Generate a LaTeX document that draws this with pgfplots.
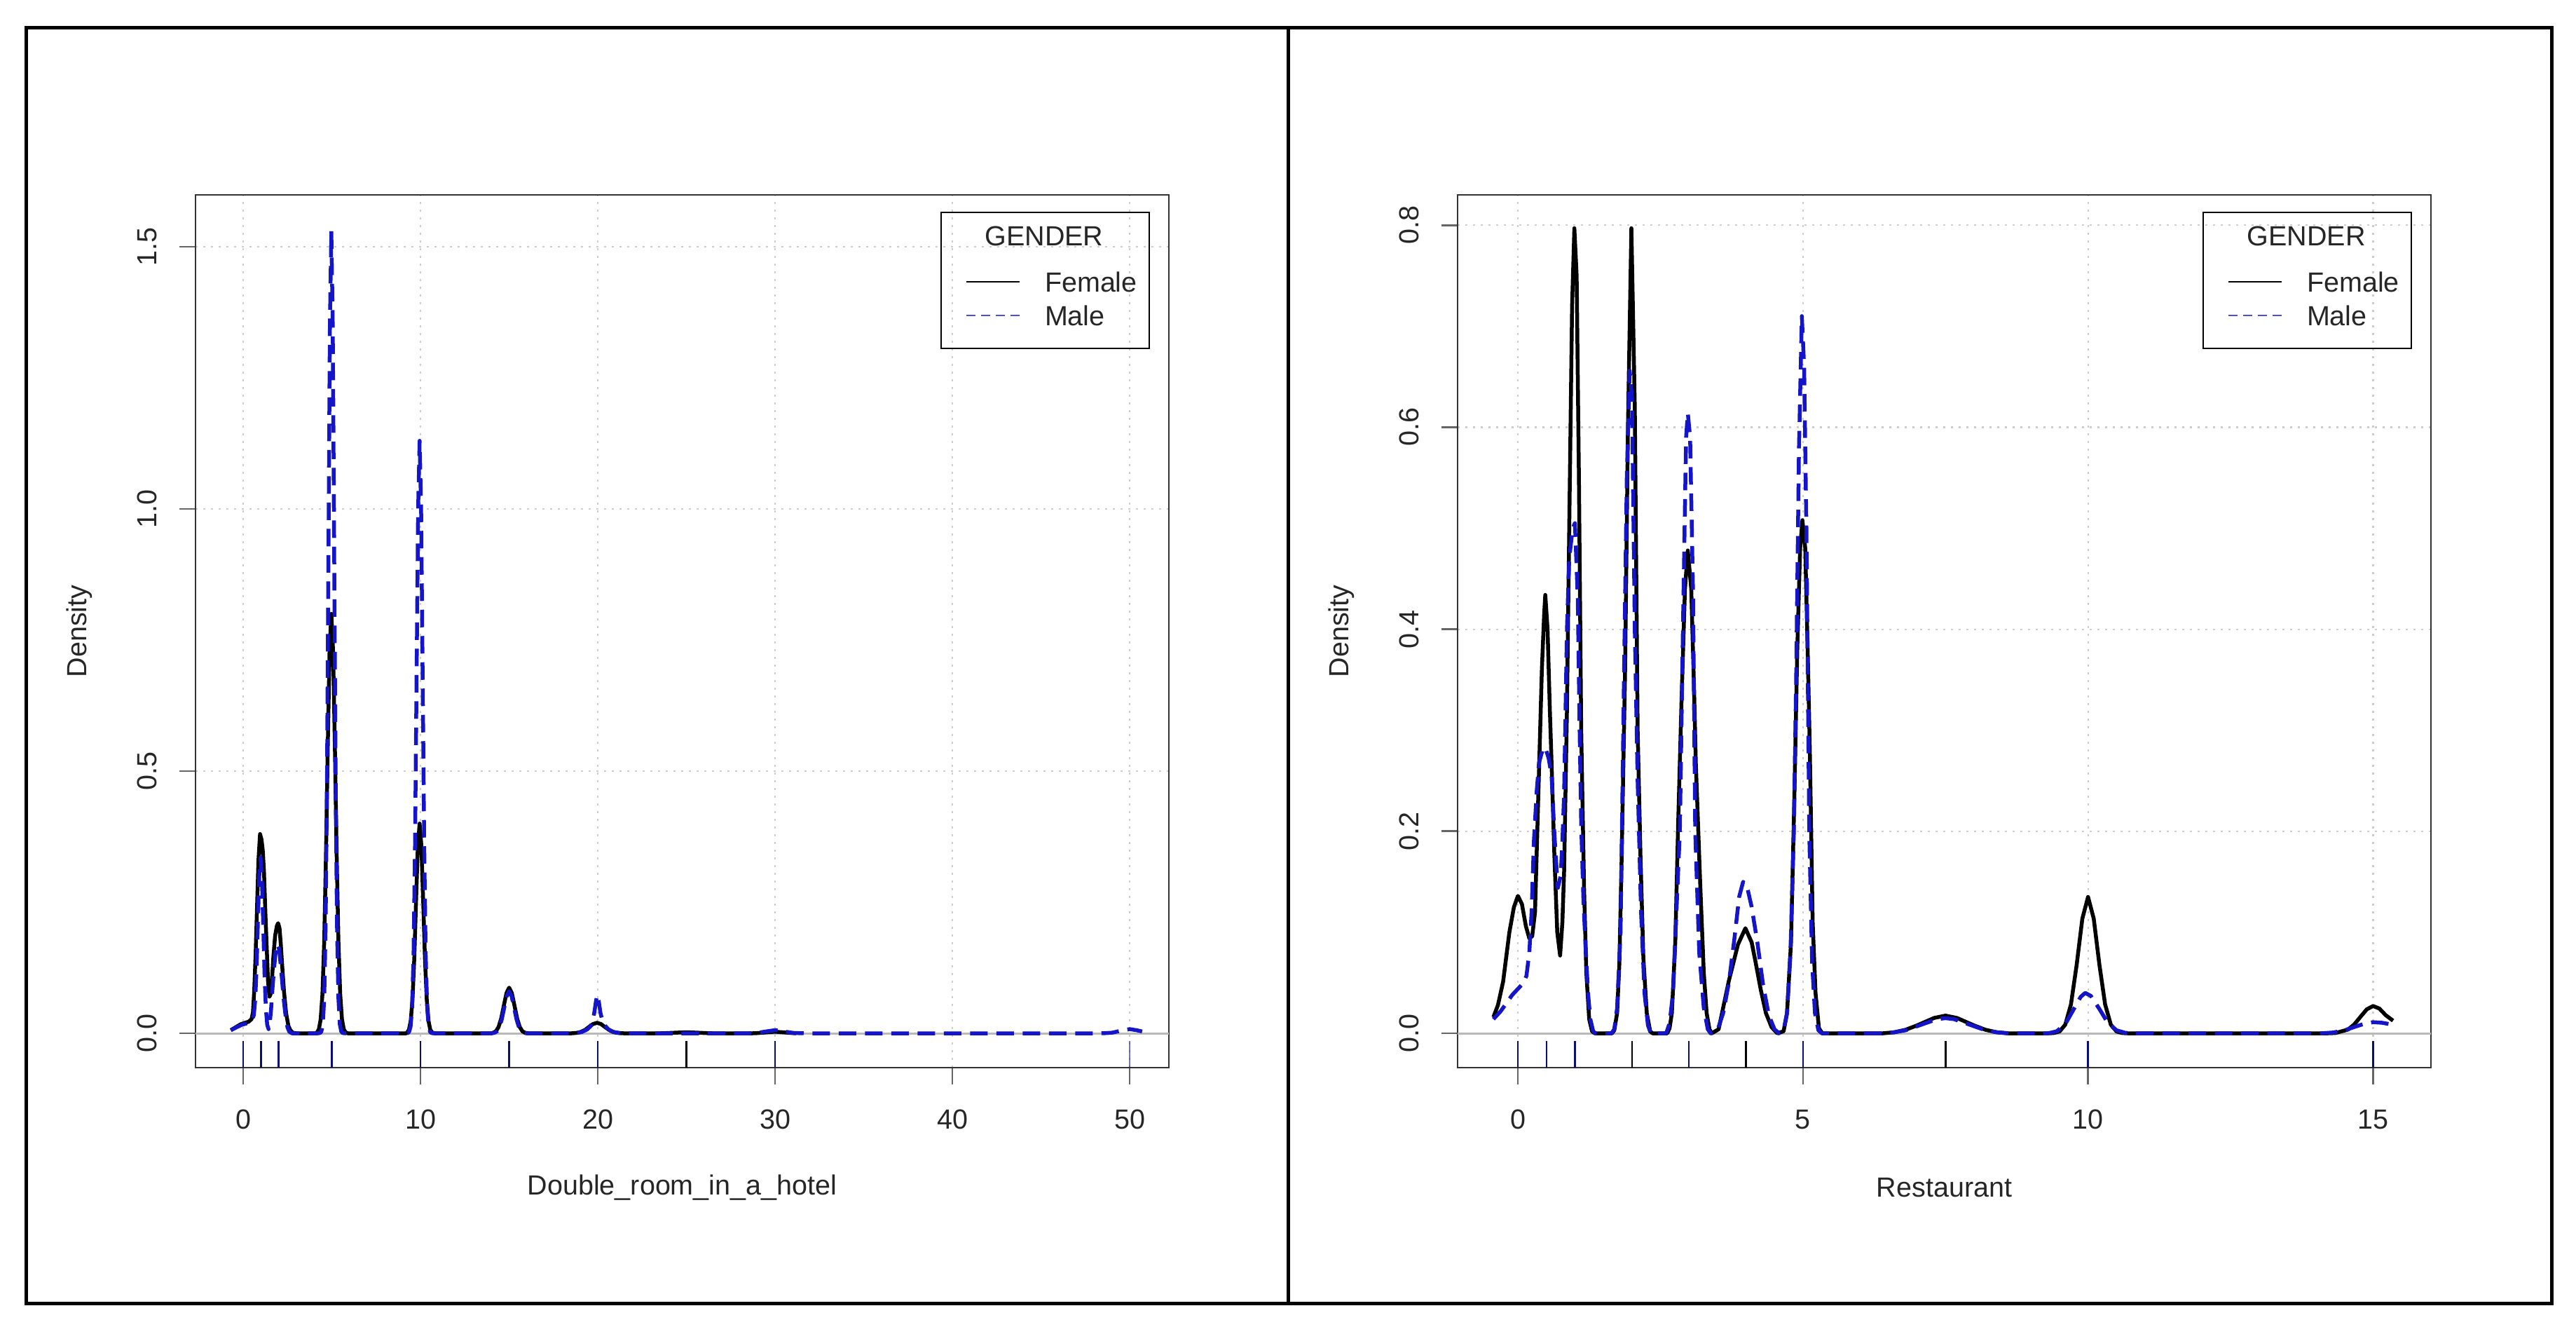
\documentclass[border=0pt]{standalone}
\usepackage{fontspec}
\setmainfont{Liberation Sans}
\usepackage{pgfplots}
\pgfplotsset{compat=1.18}
\definecolor{rblue}{RGB}{20,20,200}
\definecolor{gridgray}{RGB}{205,205,205}
\definecolor{zerogray}{RGB}{185,185,185}
\newcommand{\rfont}{\fontsize{7.9}{9}\selectfont}
\pgfplotsset{
  rstyle/.style={
    scale only axis, width=277.8pt, height=249pt, anchor=south west,
    axis line style={line width=0.55pt, black!80},
    tick pos=left, tick align=outside, major tick length=4.7pt,
    tick style={line width=0.55pt, black!60},
    grid=major,
    major grid style={line width=0.45pt, gridgray, dash pattern=on 0.6pt off 1.6pt},
    tick label style={font=\rfont, text=black!85},
    /pgf/number format/assume math mode=true,
    label style={font=\rfont, text=black!85},
    xticklabel style={anchor=center, yshift=-10.1pt},
    yticklabel style={xshift=-9.1pt, rotate=90, anchor=center},
    xlabel style={at={(axis description cs:0.5,-0.1373)}, anchor=center},
    ylabel style={at={(axis description cs:-0.1195,0.5)}, anchor=center},
  },
  fem/.style={black, line width=1.1pt, line join=round},
  mal/.style={rblue, line width=1.1pt, line join=round, dash pattern=on 5pt off 2.5pt},
}
\begin{document}
\begin{tikzpicture}
\path[use as bounding box] (0,0) rectangle (735.2pt,378.4pt);
\draw[line width=1pt] (7.4pt,6.6pt) rectangle (728.2pt,370.4pt);
\draw[line width=1pt] (367.6pt,6.6pt) -- (367.6pt,370.4pt);

% ---------------- left panel ----------------
\begin{axis}[rstyle, at={(55.8pt,73.8pt)},
  xmin=-2.69, xmax=52.21, ymin=-0.0655, ymax=1.599,
  xtick={0,10,20,30,40,50}, ytick={0,0.5,1,1.5},
  yticklabels={0.0,0.5,1.0,1.5},
  xlabel={Double\_room\_in\_a\_hotel}, ylabel={Density}]
\addplot[zerogray, line width=0.6pt, forget plot] coordinates {(-2.69,0) (52.21,0)};
% rug
\addplot[black, line width=0.5pt, unbounded coords=jump, forget plot] coordinates {
(0,-0.0147) (0,-0.0655) (0.5,nan) (1,-0.0147) (1,-0.0655) (1.5,nan) (2,-0.0147) (2,-0.0655) (3,nan)
(5,-0.0147) (5,-0.0655) (6,nan) (10,-0.0147) (10,-0.0655) (11,nan) (15,-0.0147) (15,-0.0655) (16,nan)
(20,-0.0147) (20,-0.0655) (21,nan) (25,-0.0147) (25,-0.0655) (26,nan) (30,-0.0147) (30,-0.0655)};
\addplot[rblue, opacity=0.6, line width=0.5pt, unbounded coords=jump, forget plot] coordinates {
(0,-0.0147) (0,-0.0655) (0.5,nan) (1,-0.0147) (1,-0.0655) (1.5,nan) (2,-0.0147) (2,-0.0655) (3,nan)
(5,-0.0147) (5,-0.0655) (6,nan) (10,-0.0147) (10,-0.0655) (11,nan) (15,-0.0147) (15,-0.0655) (16,nan)
(20,-0.0147) (20,-0.0655) (21,nan) (30,-0.0147) (30,-0.0655) (31,nan) (50,-0.0147) (50,-0.0655)};
% Female
\addplot[fem] coordinates {
(-0.7,0.006) (-0.4,0.012) (-0.16,0.017) (0.1,0.020) (0.3,0.022) (0.47,0.027) (0.55,0.04) (0.62,0.08)
(0.7,0.15) (0.78,0.24) (0.86,0.33) (0.95,0.38) (1.03,0.37) (1.1,0.35) (1.17,0.31) (1.25,0.23) (1.33,0.16)
(1.4,0.10) (1.48,0.07) (1.55,0.075) (1.62,0.10) (1.7,0.145) (1.8,0.186) (1.9,0.205) (1.97,0.21) (2.05,0.20)
(2.12,0.17) (2.19,0.133) (2.3,0.08) (2.42,0.038) (2.55,0.014) (2.66,0.006) (2.8,0.001) (3.0,0) (4.1,0)
(4.17,0.002) (4.27,0.008) (4.37,0.027) (4.47,0.075) (4.57,0.176) (4.67,0.343) (4.77,0.548) (4.87,0.728)
(4.97,0.80) (5.07,0.728) (5.17,0.548) (5.27,0.343) (5.37,0.176) (5.47,0.075) (5.57,0.027) (5.67,0.008)
(5.77,0.002) (5.9,0) (9.2,0) (9.25,0.0016) (9.35,0.007) (9.45,0.024) (9.55,0.066) (9.65,0.144) (9.75,0.254)
(9.85,0.357) (9.95,0.40) (10.05,0.357) (10.15,0.254) (10.25,0.144) (10.35,0.066) (10.45,0.024) (10.55,0.007)
(10.65,0.0016) (10.8,0) (14.0,0) (14.1,0.001) (14.25,0.0038) (14.4,0.0118) (14.55,0.0282) (14.7,0.0528)
(14.85,0.0768) (15.0,0.087) (15.15,0.0768) (15.3,0.0528) (15.45,0.0282) (15.6,0.0118) (15.75,0.0038)
(15.9,0.001) (16.1,0) (18.5,0) (18.6,0.0002) (18.83,0.0009) (19.05,0.0027) (19.28,0.0065) (19.5,0.0121)
(19.73,0.0177) (19.95,0.020) (20.18,0.0177) (20.4,0.0121) (20.63,0.0065) (20.85,0.0027) (21.08,0.0009)
(21.3,0.0002) (21.5,0) (23.5,0) (23.8,0.0003) (24.4,0.0012) (25,0.002) (25.6,0.0012) (26.2,0.0003) (26.5,0)
(28.7,0) (29,0.0004) (29.5,0.0018) (30,0.003) (30.5,0.0018) (31,0.0004) (31.2,0.0002)};
% Male
\addplot[mal] coordinates {
(-0.7,0.006) (-0.4,0.011) (-0.1,0.016) (0.2,0.019) (0.45,0.022) (0.55,0.03) (0.6,0.035) (0.68,0.065)
(0.755,0.125) (0.83,0.215) (0.905,0.30) (0.98,0.335) (1.055,0.295) (1.13,0.205) (1.205,0.11) (1.28,0.046)
(1.355,0.016) (1.43,0.008) (1.5,0.02) (1.57,0.045) (1.64,0.08) (1.73,0.12) (1.83,0.155) (1.93,0.17)
(2.03,0.16) (2.13,0.125) (2.22,0.09) (2.3,0.06) (2.4,0.03) (2.5,0.011) (2.6,0.003) (2.75,0) (4.2,0)
(4.33,0.0005) (4.41,0.0034) (4.49,0.017) (4.57,0.067) (4.65,0.207) (4.73,0.497) (4.81,0.928) (4.89,1.350)
(4.97,1.53) (5.05,1.350) (5.13,0.928) (5.21,0.497) (5.29,0.207) (5.37,0.067) (5.45,0.017) (5.53,0.0034)
(5.61,0.0005) (5.8,0) (9.2,0) (9.27,0.0004) (9.355,0.0025) (9.44,0.0125) (9.525,0.0496) (9.61,0.153)
(9.695,0.367) (9.78,0.685) (9.865,0.997) (9.95,1.13) (10.035,0.997) (10.12,0.685) (10.205,0.367)
(10.29,0.153) (10.375,0.0496) (10.46,0.0125) (10.545,0.0025) (10.63,0.0004) (10.8,0) (14.0,0)
(14.16,0.0009) (14.3,0.0035) (14.44,0.0108) (14.58,0.026) (14.72,0.0485) (14.86,0.0706) (15.0,0.08)
(15.14,0.0706) (15.28,0.0485) (15.42,0.026) (15.56,0.0108) (15.7,0.0035) (15.84,0.0009) (16.0,0)
(18.5,0) (18.7,0.0003) (19.1,0.0024) (19.4,0.0074) (19.6,0.0137) (19.7,0.022) (19.8,0.039) (19.9,0.062)
(19.97,0.073) (20.05,0.062) (20.15,0.039) (20.25,0.025) (20.4,0.015) (20.6,0.0074) (20.9,0.0024)
(21.3,0.0003) (21.5,0) (28.5,0) (29,0.0008) (29.5,0.0036) (30,0.006) (30.5,0.0036) (31,0.0008)
(31.5,0.0001) (32,0) (48.3,0) (48.5,0.0001) (49,0.0011) (49.5,0.0049) (50,0.008) (50.4,0.0058) (50.7,0.0035)};
\end{axis}

% ---------------- right panel ----------------
\begin{axis}[rstyle, at={(416pt,73.8pt)},
  xmin=-1.058, xmax=16.015, ymin=-0.034, ymax=0.830,
  xtick={0,5,10,15}, ytick={0,0.2,0.4,0.6,0.8},
  yticklabels={0.0,0.2,0.4,0.6,0.8},
  xlabel={Restaurant}, ylabel={Density}]
\addplot[zerogray, line width=0.6pt, forget plot] coordinates {(-1.058,0) (16.015,0)};
\addplot[black, line width=0.5pt, unbounded coords=jump, forget plot] coordinates {
(0,-0.0076) (0,-0.034) (0.2,nan) (0.5,-0.0076) (0.5,-0.034) (0.7,nan) (1,-0.0076) (1,-0.034) (1.5,nan)
(2,-0.0076) (2,-0.034) (2.5,nan) (3,-0.0076) (3,-0.034) (3.5,nan) (4,-0.0076) (4,-0.034) (4.5,nan)
(5,-0.0076) (5,-0.034) (6,nan) (7.5,-0.0076) (7.5,-0.034) (8,nan) (10,-0.0076) (10,-0.034) (11,nan)
(15,-0.0076) (15,-0.034)};
\addplot[rblue, opacity=0.6, line width=0.5pt, unbounded coords=jump, forget plot] coordinates {
(0,-0.0076) (0,-0.034) (0.2,nan) (0.5,-0.0076) (0.5,-0.034) (0.7,nan) (1,-0.0076) (1,-0.034) (1.5,nan)
(3,-0.0076) (3,-0.034) (3.5,nan) (5,-0.0076) (5,-0.034) (6,nan) (10,-0.0076) (10,-0.034) (11,nan)
(15,-0.0076) (15,-0.034)};
% Female
\addplot[fem] coordinates {
(-0.43,0.016) (-0.35,0.028) (-0.26,0.051) (-0.15,0.10) (-0.07,0.125) (0.0,0.136) (0.07,0.128) (0.14,0.106)
(0.2,0.094) (0.25,0.096) (0.3,0.12) (0.34,0.20) (0.38,0.28) (0.42,0.36) (0.46,0.415) (0.48,0.434)
(0.52,0.40) (0.56,0.32) (0.59,0.268) (0.64,0.175) (0.69,0.10) (0.74,0.077) (0.78,0.11) (0.81,0.16)
(0.86,0.32) (0.9,0.50) (0.95,0.72) (0.99,0.797) (1.03,0.75) (1.07,0.55) (1.11,0.30) (1.16,0.144)
(1.2,0.06) (1.25,0.014) (1.3,0.002) (1.35,0) (1.65,0) (1.69,0.003) (1.74,0.02) (1.78,0.07) (1.82,0.175)
(1.88,0.36) (1.93,0.60) (1.99,0.797) (2.05,0.62) (2.1,0.30) (2.15,0.175) (2.2,0.075) (2.26,0.02)
(2.32,0.002) (2.36,0) (2.62,0) (2.66,0.005) (2.7,0.02) (2.76,0.09) (2.81,0.206) (2.87,0.33) (2.93,0.44)
(2.98,0.478) (3.04,0.44) (3.09,0.34) (3.12,0.268) (3.2,0.144) (3.26,0.06) (3.31,0.02) (3.36,0.004)
(3.4,0) (3.52,0.004) (3.58,0.02) (3.7,0.052) (3.86,0.088) (3.99,0.104) (4.1,0.09) (4.16,0.073)
(4.26,0.043) (4.35,0.02) (4.45,0.006) (4.55,0) (4.66,0.002) (4.72,0.02) (4.79,0.09) (4.85,0.237)
(4.9,0.38) (4.95,0.48) (4.99,0.508) (5.04,0.48) (5.09,0.36) (5.12,0.28) (5.17,0.11) (5.22,0.04)
(5.28,0.005) (5.34,0) (6.4,0) (6.6,0.001) (6.8,0.0035) (7.0,0.0078) (7.15,0.0115) (7.3,0.0152)
(7.5,0.0175) (7.7,0.0152) (7.85,0.0115) (8.0,0.0078) (8.2,0.0035) (8.4,0.001) (8.6,0) (9.3,0)
(9.4,0.0003) (9.5,0.0018) (9.6,0.0085) (9.7,0.0285) (9.8,0.0676) (9.9,0.1135) (10.0,0.135)
(10.1,0.1135) (10.2,0.0676) (10.3,0.0285) (10.4,0.0085) (10.5,0.0018) (10.6,0.0003) (10.7,0)
(14.2,0) (14.34,0.0003) (14.56,0.0037) (14.67,0.0088) (14.78,0.0164) (14.89,0.0238) (15.0,0.027)
(15.11,0.0245) (15.22,0.018) (15.35,0.0125)};
% Male
\addplot[mal] coordinates {
(-0.43,0.014) (-0.3,0.022) (-0.1,0.038) (0.0,0.044) (0.1,0.05) (0.15,0.057) (0.2,0.08) (0.24,0.12)
(0.28,0.19) (0.33,0.24) (0.37,0.268) (0.43,0.28) (0.48,0.283) (0.54,0.272) (0.59,0.255) (0.64,0.197)
(0.7,0.144) (0.75,0.156) (0.78,0.19) (0.81,0.237) (0.86,0.40) (0.9,0.47) (0.96,0.50) (1.0,0.505)
(1.05,0.43) (1.08,0.31) (1.11,0.206) (1.15,0.13) (1.19,0.082) (1.23,0.04) (1.27,0.014) (1.32,0.002)
(1.36,0) (1.64,0) (1.69,0.004) (1.74,0.025) (1.8,0.1) (1.86,0.35) (1.91,0.55) (1.96,0.656) (2.0,0.63)
(2.05,0.40) (2.1,0.25) (2.16,0.12) (2.22,0.04) (2.28,0.008) (2.33,0) (2.6,0) (2.66,0.01) (2.72,0.04)
(2.78,0.12) (2.84,0.2) (2.9,0.42) (2.95,0.59) (2.98,0.614) (3.02,0.59) (3.07,0.44) (3.11,0.2)
(3.18,0.08) (3.26,0.025) (3.33,0.004) (3.38,0) (3.5,0.003) (3.6,0.02) (3.7,0.05) (3.8,0.095)
(3.88,0.135) (3.95,0.15) (4.02,0.145) (4.1,0.125) (4.2,0.09) (4.3,0.048) (4.4,0.018) (4.5,0.004)
(4.58,0) (4.66,0.003) (4.72,0.02) (4.78,0.08) (4.84,0.2) (4.88,0.35) (4.93,0.58) (4.98,0.71)
(5.02,0.66) (5.06,0.5) (5.11,0.2) (5.16,0.07) (5.21,0.02) (5.27,0.003) (5.33,0) (6.4,0) (6.6,0.001)
(6.8,0.003) (7.0,0.007) (7.2,0.011) (7.35,0.014) (7.5,0.015) (7.65,0.014) (7.8,0.011) (8.0,0.007)
(8.2,0.003) (8.4,0.001) (8.6,0) (9.3,0) (9.45,0.002) (9.6,0.009) (9.75,0.024) (9.87,0.036) (9.95,0.04)
(10.05,0.037) (10.2,0.024) (10.35,0.01) (10.5,0.003) (10.65,0.0005) (10.8,0) (14.1,0) (14.3,0.0008)
(14.5,0.003) (14.7,0.0068) (14.85,0.0095) (15.0,0.011) (15.15,0.0105) (15.3,0.009) (15.42,0.008)};
\end{axis}

% ---------------- legends ----------------
\begin{scope}[font=\rfont, text=black!85]
\foreach \dx in {0pt,360.2pt}{
  \begin{scope}[xshift=\dx]
  \draw[line width=0.55pt, black] (268.6pt,279pt) rectangle (328pt,317.8pt);
  \node[anchor=center, inner sep=0pt] at (298pt,311pt) {GENDER};
  \draw[black, line width=0.45pt] (275.8pt,298pt) -- (291pt,298pt);
  \node[anchor=west, inner sep=0pt] at (298pt,298pt) {Female};
  \draw[rblue!75, line width=0.45pt, dash pattern=on 2.6pt off 1.6pt] (275.8pt,288.4pt) -- (291pt,288.4pt);
  \node[anchor=west, inner sep=0pt] at (298pt,288.4pt) {Male};
  \end{scope}
}
\end{scope}
\end{tikzpicture}
\end{document}
